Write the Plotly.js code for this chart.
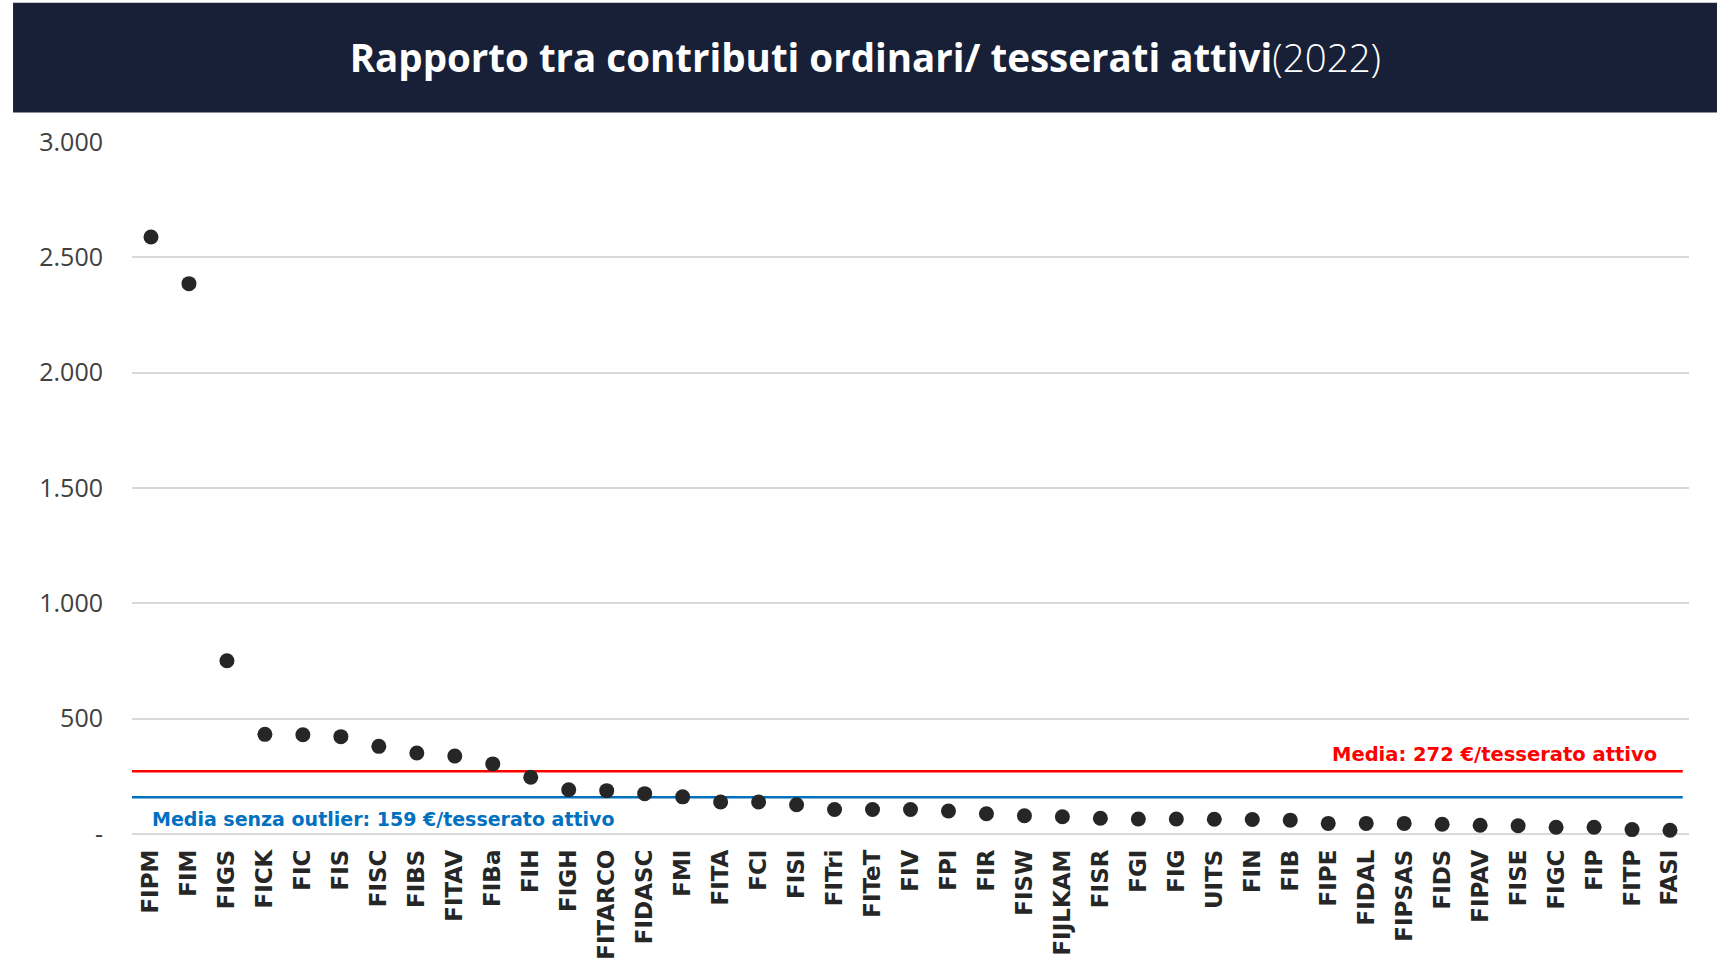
<!DOCTYPE html>
<html>
<head>
<meta charset="utf-8">
<script src="https://cdn.plot.ly/plotly-3.0.1.min.js"></script>
<style>
  html, body { margin: 0; padding: 0; background: #ffffff; }
  #chart { width: 1717px; height: 966px; }
</style>
</head>
<body>
<div id="chart"></div>
<script>
// Federations (categories), ordered as in the chart
const federations = ["FIPM","FIM","FIGS","FICK","FIC","FIS","FISC","FIBS","FITAV","FIBa",
  "FIH","FIGH","FITARCO","FIDASC","FMI","FITA","FCI","FISI","FITri","FITeT",
  "FIV","FPI","FIR","FISW","FIJLKAM","FISR","FGI","FIG","UITS","FIN",
  "FIB","FIPE","FIDAL","FIPSAS","FIDS","FIPAV","FISE","FIGC","FIP","FITP","FASI"];

// Ratio ordinary contributions / active members (€ per member)
const ratioValues = [2588, 2386, 751, 432, 430, 422, 380, 351, 338, 304,
  246, 192, 188, 175, 161, 139, 139, 127, 106, 106,
  106, 100, 88, 79, 75, 68, 65, 65, 64, 63,
  60, 46, 46, 46, 42, 38, 36, 29, 29, 19, 16];

// Reference averages
const meanAll = 272;
const meanWithoutOutliers = 159;

// Y axis ticks
const yTickValues = [0, 500, 1000, 1500, 2000, 2500, 3000];
const yTickLabels = ["-", "500", "1.000", "1.500", "2.000", "2.500", "3.000"];

const titleMain = "Rapporto tra contributi ordinari/ tesserati attivi";
const titleYear = "(2022)";
const labelMeanAll = "Media: " + meanAll + " €/tesserato attivo";
const labelMeanNoOut = "Media senza outlier: " + meanWithoutOutliers + " €/tesserato attivo";

const FONT = "Open Sans, Liberation Sans, sans-serif";
const BOLD_FONT = "DejaVu Sans, Open Sans, sans-serif";

const trace = {
  type: "scatter",
  mode: "markers",
  x: federations,
  y: ratioValues,
  marker: { color: "#262626", size: 15 },
  cliponaxis: false,
  hoverinfo: "x+y",
  showlegend: false
};

const layout = {
  width: 1717,
  height: 966,
  paper_bgcolor: "#ffffff",
  plot_bgcolor: "#ffffff",
  margin: { l: 132, r: 28, t: 142, b: 132, pad: 0 },
  font: { family: FONT, color: "#404040" },
  title: {
    text: "<b>" + titleMain + "</b><span style='font-weight:300'>" + titleYear + "</span>",
    font: { family: FONT, size: 38.5, color: "#ffffff" },
    xref: "container", x: 0.504, xanchor: "center",
    yref: "container", y: 0.939, yanchor: "middle"
  },
  xaxis: {
    type: "category",
    range: [-0.5, federations.length - 0.5],
    tickangle: -90,
    tickfont: { family: BOLD_FONT, size: 23, color: "#262626", weight: 700 },
    showgrid: false,
    zeroline: false,
    showline: false,
    ticks: "",
    ticklabelstandoff: 10,
    fixedrange: true
  },
  yaxis: {
    range: [0, 3000],
    tickvals: yTickValues,
    ticktext: yTickLabels,
    tickfont: { family: FONT, size: 25, color: "#404040", weight: 400 },
    showgrid: true,
    gridcolor: "#d9d9d9",
    gridwidth: 1.5,
    zeroline: true,
    zerolinecolor: "#d9d9d9",
    zerolinewidth: 1.5,
    showline: false,
    ticks: "",
    ticklabelstandoff: 28,
    fixedrange: true
  },
  shapes: [
    {
      type: "rect", xref: "paper", yref: "paper",
      x0: -0.0764, x1: 1.02, y0: 1.0425, y1: 1.2014,
      fillcolor: "#172036", line: { width: 0 }, layer: "below"
    },
    {
      type: "line", xref: "paper", yref: "y",
      x0: 0, x1: 0.996, y0: meanAll, y1: meanAll,
      line: { color: "#ff0000", width: 2.5 }, layer: "below"
    },
    {
      type: "line", xref: "paper", yref: "y",
      x0: 0, x1: 0.996, y0: meanWithoutOutliers, y1: meanWithoutOutliers,
      line: { color: "#0070c0", width: 2.5 }, layer: "below"
    }
  ],
  annotations: [
    {
      text: "<b>" + labelMeanAll + "</b>",
      xref: "paper", x: 0.981, xanchor: "right",
      yref: "y", y: meanAll, yanchor: "middle", yshift: 17,
      showarrow: false,
      font: { family: BOLD_FONT, size: 19.5, color: "#ff0000" }
    },
    {
      text: "<b>" + labelMeanNoOut + "</b>",
      xref: "paper", x: 0.0116, xanchor: "left",
      yref: "y", y: meanWithoutOutliers, yanchor: "middle", yshift: -22,
      showarrow: false,
      font: { family: BOLD_FONT, size: 19, color: "#0070c0" }
    }
  ]
};

Plotly.newPlot("chart", [trace], layout, { displayModeBar: false });
</script>
</body>
</html>
